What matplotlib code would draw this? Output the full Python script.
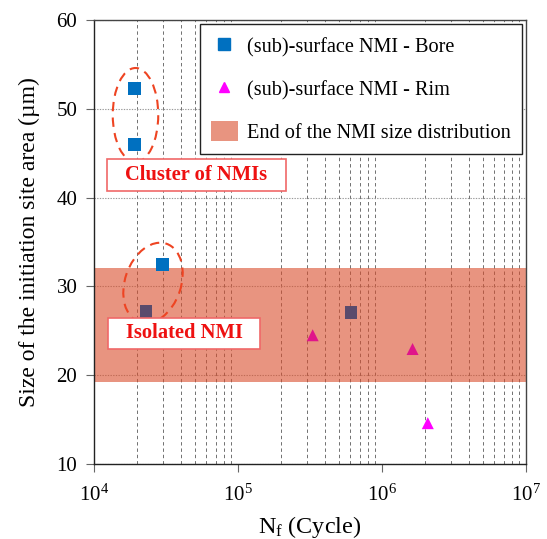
import numpy as np
import matplotlib
matplotlib.use("Agg")
import matplotlib.pyplot as plt
from matplotlib.patches import Ellipse, Patch, Rectangle
from matplotlib.lines import Line2D
from matplotlib.ticker import LogLocator, NullFormatter
import matplotlib.transforms as mtransforms

plt.rcParams['font.family'] = ['Liberation Serif', 'DejaVu Serif']
plt.rcParams['mathtext.fontset'] = 'custom'
plt.rcParams['mathtext.rm'] = 'Liberation Serif'
plt.rcParams['mathtext.it'] = 'Liberation Serif:italic'

# Data
bore_cycles = [1.9e4, 1.9e4, 3.0e4, 2.3e4, 6.1e5]
bore_size = [52.3, 46.0, 32.5, 27.2, 27.1]
rim_cycles = [3.3e5, 1.63e6, 2.08e6]
rim_size = [24.5, 22.95, 14.6]
band_low, band_high = 19.2, 32.1

W, H = 547, 539
fig = plt.figure(figsize=(W / 100, H / 100), dpi=100)
ax_l, ax_r, ax_t, ax_b = 94, 526, 20, 464
ax = fig.add_axes([ax_l / W, (H - ax_b) / H, (ax_r - ax_l) / W, (ax_b - ax_t) / H])
ax.set_xscale('log')
ax.set_xlim(1e4, 1e7)
ax.set_ylim(10, 60)


def px_to_axes(x, y):
    return (x - ax_l) / (ax_r - ax_l), (ax_b - y) / (ax_b - ax_t)


# grid
ax.xaxis.set_minor_locator(LogLocator(base=10, subs=np.arange(2, 10)))
ax.xaxis.set_minor_formatter(NullFormatter())
ax.grid(True, which='minor', axis='x', linestyle=(0, (3.5, 3)), color='#707070', linewidth=0.7, zorder=0)
ax.grid(True, which='major', axis='y', linestyle=(0, (1.2, 1.2)), color='#999999', linewidth=0.8, zorder=0)
ax.set_axisbelow(True)
ax.tick_params(axis='x', which='minor', length=0)
ax.tick_params(axis='both', which='major', direction='out', length=6, width=0.8,
               labelsize=15, color='#666666')
ax.tick_params(axis='x', which='major', pad=9)
ax.tick_params(axis='y', which='major', pad=6)
ax.set_yticks([10, 20, 30, 40, 50, 60])

# band
band_color = (217 / 255, 77 / 255, 43 / 255)
ax.axhspan(band_low, band_high, color=band_color, alpha=0.6, lw=0, zorder=2)

bs = np.array(bore_size)
rs = np.array(rim_size)
bore_in = (bs >= band_low) & (bs <= band_high - 1)
rim_in = (rs >= band_low) & (rs <= band_high)
bc = ['#5A4B6C' if m else '#0070C0' for m in bore_in]
rc = ['#E0158A' if m else '#FF00FF' for m in rim_in]
ax.scatter(bore_cycles, bore_size, marker='s', s=85, c=bc, zorder=3, lw=0)
ax.scatter(rim_cycles, rim_size, marker='^', s=75, c=rc, zorder=3, lw=0)

for s in ax.spines.values():
    s.set_color('#444444')
    s.set_linewidth(1.0)
ax.spines['left'].set_color('#222222')
ax.spines['bottom'].set_color('#222222')


# ellipses (sizes in pixels)
def add_ellipse(cx, cy, w, h, angle):
    ox, oy = px_to_axes(cx, cy)
    tr = fig.dpi_scale_trans + mtransforms.ScaledTranslation(ox, oy, ax.transAxes)
    e = Ellipse((0, 0), w / 100, h / 100, angle=angle, transform=tr, fill=False,
                edgecolor='#EE4422', linestyle=(0, (4.5, 3)), linewidth=1.5, zorder=4)
    ax.add_patch(e)


add_ellipse(135.5, 115, 45.5, 94, 0)
add_ellipse(153, 283, 83, 56, 71)


# annotation boxes
def add_box(x0, y0, x1, y1, text):
    ax0, ay1 = px_to_axes(x0, y0)
    ax1, ay0 = px_to_axes(x1, y1)
    ax.add_patch(Rectangle((ax0, ay0), ax1 - ax0, ay1 - ay0, transform=ax.transAxes,
                           facecolor='white', edgecolor='#F06868', lw=1.2, zorder=5))
    ax.text((ax0 + ax1) / 2, (ay0 + ay1) / 2, text, transform=ax.transAxes, fontsize=14.8,
            fontweight='bold', color='#EE1111', va='center', ha='center', zorder=6)


add_box(107, 159, 286, 191, 'Cluster of NMIs')
add_box(108, 318, 260, 349, 'Isolated NMI')

handles = [
    Line2D([], [], marker='s', color='#0070C0', linestyle='none', markersize=8.5),
    Line2D([], [], marker='^', color='#FF00FF', linestyle='none', markersize=7.5),
    Patch(facecolor=band_color, alpha=0.6, edgecolor='none'),
]
labels = ['(sub)-surface NMI - Bore', '(sub)-surface NMI - Rim', 'End of the NMI size distribution']
lx, ly = px_to_axes(522, 24)
leg = ax.legend(handles, labels, loc='upper right', bbox_to_anchor=(lx, ly), borderaxespad=0,
                fontsize=14.6, frameon=True, fancybox=False, edgecolor='#222222', framealpha=1,
                labelspacing=1.04, handlelength=1.33, handleheight=1.15, borderpad=0.55,
                handletextpad=0.45)
leg.get_frame().set_linewidth(1.0)
leg.set_zorder(7)

ax.set_xlabel('N$_\\mathrm{f}$ (Cycle)', fontsize=17.4, labelpad=6)
ax.set_ylabel('Size of the initiation site area (µm)', fontsize=17, labelpad=12)

fig.savefig('out.png', dpi=100)
